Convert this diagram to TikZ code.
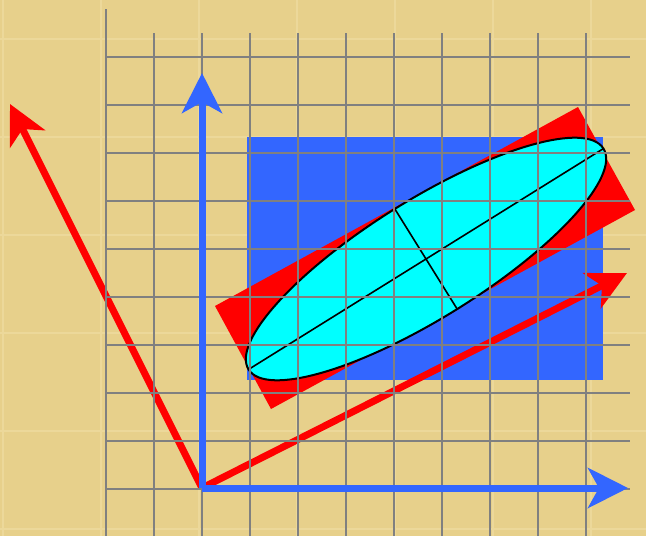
\documentclass[tikz,border=0pt]{standalone}
\usetikzlibrary{arrows.meta,calc}
\definecolor{bgtan}{RGB}{231,208,139}
\definecolor{tileline}{RGB}{236,216,154}
\definecolor{gridgray}{RGB}{128,128,128}
\definecolor{axisblue}{RGB}{51,102,255}
\definecolor{boxred}{RGB}{255,0,0}
\definecolor{ellcyan}{RGB}{0,255,255}
\tikzset{
  gridline/.style={draw=gridgray, line width=2.4pt},
  bluearrow/.style={draw=axisblue, line width=7pt, -{Stealth[length=40pt, width=40pt, inset=11pt]}},
  redarrow/.style={draw=boxred, line width=7pt, -{Stealth[length=39pt, width=39pt, inset=11pt]}},
  axisline/.style={draw=black, line width=1.6pt},
}
\begin{document}
\begin{tikzpicture}[x=1pt, y=-1pt]
\useasboundingbox (0,0) rectangle (646,536);
% background
\fill[bgtan] (0,0) rectangle (646,536);
\foreach \k in {0,...,6} {
  \draw[tileline, line width=1.2pt] ({3+98*\k},0) -- ({3+98*\k},536);
}
\foreach \k in {0,...,5} {
  \draw[tileline, line width=1.2pt] (0,{39+98*\k}) -- (646,{39+98*\k});
}
% coordinates
\coordinate (O) at (202,488);
\coordinate (Xtip) at (628,488);
\coordinate (Ytip) at (202,73);
\coordinate (Utip) at (627,273);
\coordinate (Vtip) at (10,104);
\coordinate (C) at (426,259);
% blue bounding box
\fill[axisblue] (247,137) rectangle (603,380);
% red rotated box
\fill[boxred] (215,306) -- (578,107) -- (635,210) -- (271,409) -- cycle;
% ellipse
\draw[fill=ellcyan, line width=2pt, rotate around={31.9:(C)}] (C) ellipse [x radius=209, y radius=59];
\coordinate (A1) at ($(C)+(177.4,-110.4)$);
\coordinate (A2) at ($(C)+(-177.4,110.4)$);
\coordinate (B1) at ($(C)+(31.2,50.1)$);
\coordinate (B2) at ($(C)+(-31.2,-50.1)$);
\draw[axisline] (A2) -- (A1);
\draw[axisline] (B2) -- (B1);
% red rotated axes
\draw[redarrow] (O) -- (Utip);
\draw[redarrow] (O) -- (Vtip);
% grid
\draw[gridline] (106,9) -- (106,536);
\foreach \k in {1,...,10} {
  \draw[gridline] ({106+48*\k},33) -- ({106+48*\k},536);
}
\foreach \k in {0,...,9} {
  \draw[gridline] (106,{57+48*\k}) -- (630,{57+48*\k});
}
% blue axes
\draw[bluearrow] (O) -- (Xtip);
\draw[bluearrow] (O) -- (Ytip);
\end{tikzpicture}
\end{document}
